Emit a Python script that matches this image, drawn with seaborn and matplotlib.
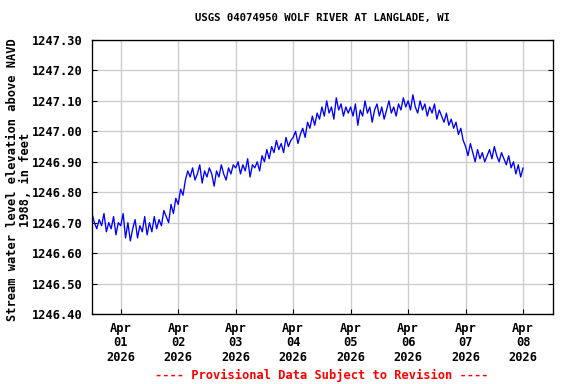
import pandas as pd
import matplotlib.pyplot as plt
import seaborn as sns
import numpy as np

# leituras horarias (pes, NAVD 1988)
mar31 = [1246.73, 1246.70, 1246.68, 1246.71, 1246.69, 1246.73, 1246.67, 1246.70,
         1246.68, 1246.72, 1246.66, 1246.70]
apr01 = [1246.69, 1246.73, 1246.65, 1246.70, 1246.64, 1246.68, 1246.71, 1246.65,
         1246.69, 1246.67, 1246.72, 1246.66, 1246.70, 1246.67, 1246.72, 1246.68,
         1246.71, 1246.69, 1246.74, 1246.72, 1246.70, 1246.76, 1246.73, 1246.78]
apr02 = [1246.76, 1246.81, 1246.79, 1246.84, 1246.87, 1246.85, 1246.88, 1246.84,
         1246.86, 1246.89, 1246.83, 1246.87, 1246.85, 1246.88, 1246.86, 1246.82,
         1246.87, 1246.85, 1246.89, 1246.86, 1246.84, 1246.88, 1246.86, 1246.89]
apr03 = [1246.88, 1246.90, 1246.86, 1246.89, 1246.87, 1246.91, 1246.85, 1246.89,
         1246.88, 1246.90, 1246.87, 1246.92, 1246.90, 1246.94, 1246.91, 1246.95,
         1246.93, 1246.97, 1246.94, 1246.96, 1246.93, 1246.98, 1246.95, 1246.97]
apr04 = [1246.98, 1247.00, 1246.96, 1246.99, 1247.01, 1246.98, 1247.03, 1247.01,
         1247.05, 1247.02, 1247.06, 1247.04, 1247.08, 1247.05, 1247.10, 1247.06,
         1247.08, 1247.04, 1247.11, 1247.07, 1247.09, 1247.05, 1247.08, 1247.06]
apr05 = [1247.08, 1247.05, 1247.09, 1247.02, 1247.07, 1247.05, 1247.10, 1247.06,
         1247.08, 1247.03, 1247.07, 1247.09, 1247.05, 1247.08, 1247.04, 1247.07,
         1247.10, 1247.06, 1247.08, 1247.05, 1247.09, 1247.07, 1247.11, 1247.08]
apr06 = [1247.10, 1247.07, 1247.12, 1247.08, 1247.06, 1247.10, 1247.07, 1247.09,
         1247.05, 1247.08, 1247.06, 1247.09, 1247.04, 1247.07, 1247.05, 1247.03,
         1247.06, 1247.02, 1247.04, 1247.01, 1247.03, 1246.99, 1247.01, 1246.97]
apr07 = [1246.95, 1246.92, 1246.96, 1246.93, 1246.90, 1246.94, 1246.91, 1246.93,
         1246.90, 1246.92, 1246.94, 1246.91, 1246.95, 1246.92, 1246.90, 1246.93,
         1246.91, 1246.89, 1246.92, 1246.88, 1246.90, 1246.86, 1246.89, 1246.85]
apr08 = [1246.88]

nivel = mar31 + apr01 + apr02 + apr03 + apr04 + apr05 + apr06 + apr07 + apr08
tempo = pd.date_range("2026-03-31 12:00", periods=len(nivel), freq="h")
dados = pd.DataFrame({"tempo": tempo, "nivel": nivel})

y_ticks = [1246.40, 1246.50, 1246.60, 1246.70, 1246.80, 1246.90,
           1247.00, 1247.10, 1247.20, 1247.30]
x_ticks = pd.date_range("2026-04-01", "2026-04-08", freq="D")

sns.set_style("white")
plt.rcParams["font.family"] = ["DejaVu Sans Mono"]
plt.rcParams["font.weight"] = "bold"
plt.rcParams["text.color"] = "black"
plt.rcParams["axes.labelcolor"] = "black"
plt.rcParams["xtick.color"] = "black"
plt.rcParams["ytick.color"] = "black"

fig = plt.figure(figsize=(6, 4), dpi=96)
ax = fig.add_axes([92 / 576, 70 / 384, 461 / 576, 274 / 384])

sns.lineplot(x="tempo", y="nivel", data=dados, color="#0000ff", linewidth=1, ax=ax)

ax.set_xlim(pd.Timestamp("2026-03-31 12:00"), pd.Timestamp("2026-04-08 12:30"))
ax.set_ylim(1246.40, 1247.30)
ax.set_yticks(y_ticks)
ax.set_yticklabels(["%.2f" % v for v in y_ticks], fontsize=9, fontweight="bold")
ax.set_xticks(x_ticks)
ax.set_xticklabels([d.strftime("Apr\n%d\n%Y") for d in x_ticks], fontsize=9,
                   fontweight="bold", linespacing=1.15)
ax.grid(True, color="#cccccc", linewidth=1)
ax.tick_params(axis="y", direction="in", length=4, left=True, right=True, pad=7)
ax.tick_params(axis="x", direction="in", length=4, bottom=True, pad=6)
for s in ax.spines.values():
    s.set_color("black")
    s.set_linewidth(1)

ax.set_xlabel("")
ax.set_ylabel("Stream water level elevation above NAVD\n1988, in feet", fontsize=9,
              fontweight="bold", linespacing=1.0)
ax.yaxis.set_label_coords(-0.13, 0.49)
ax.set_title("USGS 04074950 WOLF RIVER AT LANGLADE, WI", fontsize=8,
             fontweight="bold", pad=14)

fig.text(322 / 576, 1 - 375 / 384, "---- Provisional Data Subject to Revision ----",
         color="red", fontsize=9, fontweight="bold", ha="center", va="center")

fig.savefig("out.png", dpi=96)
